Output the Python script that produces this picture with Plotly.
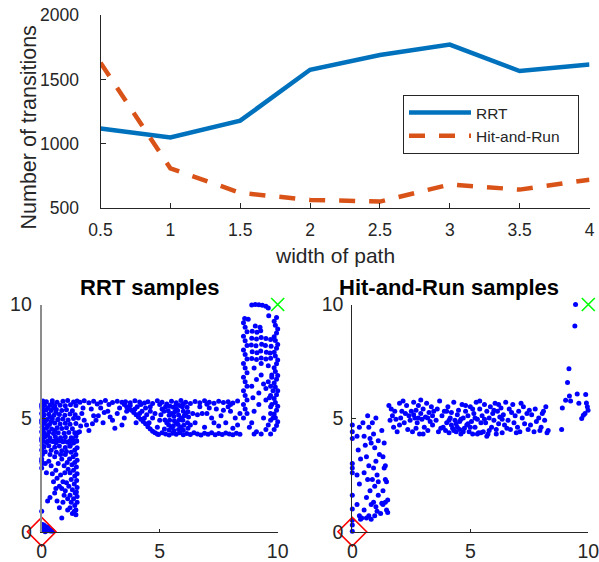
import plotly.graph_objects as go

# ---------------- data ----------------
path_width = [0.5, 1.0, 1.5, 2.0, 2.5, 3.0, 3.5, 4.0]
rrt_transitions = [1120, 1050, 1180, 1575, 1690, 1770, 1565, 1615]
hr_transitions = [1630, 810, 620, 565, 552, 685, 645, 722]

top_xticks = [0.5, 1, 1.5, 2, 2.5, 3, 3.5, 4]
top_yticks = [500, 1000, 1500, 2000]
sample_ticks = [0, 5, 10]

start_point = (0, 0)
goal_point = (10, 10)

rrt_samples = [
    # near the start
    (0.03,0.05),(0.08,0.18),(0.12,0.04),(0.18,0.12),(0.24,0.05),(0.30,0.09),(0.36,0.03),(0.42,0.06),
    (0.10,0.28),(0.04,0.32),(0.20,0.22),(0.15,0.00),(0.28,0.18),(0.47,0.02),
    # sparse low part of the first corridor
    (0.00,0.90),(0.35,1.50),(0.75,1.05),(0.85,0.60),(0.25,1.35),(1.45,0.75),(0.55,1.70),(0.50,2.20),
    (0.20,2.60),(0.65,1.35),
    # right edge of the first corridor
    (1.30,0.80),(1.45,0.95),(1.20,1.05),(1.40,1.15),(1.50,1.30),(1.25,1.30),(1.35,1.45),(1.50,1.55),
    (1.20,1.60),(1.42,1.70),(1.30,1.85),(1.50,1.95),(1.15,2.00),(1.38,2.10),(1.48,2.25),(1.25,2.30),
    (1.40,2.45),(1.50,2.55),(1.20,2.60),(1.35,2.70),(1.47,2.85),(1.28,2.95),(1.40,3.05),(1.50,3.15),
    (1.18,3.20),(1.33,3.30),(1.45,3.40),(1.25,3.50),(1.40,3.60),(1.50,3.70),(1.20,3.80),(1.35,3.90),
    (1.48,4.00),(1.30,4.10),(1.45,4.20),(1.10,1.45),(1.05,2.15),(1.12,2.75),(1.00,3.40),(1.10,0.95),
    (1.00,1.80),(1.08,3.05),(1.52,4.35),(1.38,0.90),(1.47,1.75),
    # middle of the first corridor
    (0.40,2.90),(0.60,2.70),(0.80,2.50),(0.90,2.20),(0.70,3.00),(0.95,1.60),(0.85,1.90),(0.30,3.10),
    (0.55,3.30),(0.75,2.00),(0.95,2.90),(0.65,2.35),(0.45,2.55),(0.85,3.20),(0.60,1.90),(0.90,1.30),
    (0.80,3.40),(0.35,3.40),(0.98,2.60),(0.15,3.00),
    # along the left wall
    (0.00,2.80),(0.02,3.00),(0.00,3.20),(0.03,3.40),(0.00,3.60),(0.02,3.80),(0.00,4.00),(0.03,4.20),
    (0.00,4.40),(0.02,4.60),(0.00,4.80),(0.03,5.00),(0.00,5.20),(0.02,5.40),(0.00,5.60),(0.05,5.75),
    (0.00,3.10),(0.00,4.10),(0.00,4.90),(0.00,5.50),
    # dense upper part of the first corridor
    (0.15,3.52),(0.40,3.58),(0.62,3.50),(0.85,3.56),(1.05,3.53),
    (0.10,3.74),(0.30,3.78),(0.55,3.72),(0.75,3.77),(1.00,3.71),(1.20,3.76),
    (0.20,3.93),(0.45,3.97),(0.60,3.92),(0.90,3.96),(1.10,3.94),
    (0.12,4.16),(0.35,4.12),(0.58,4.18),(0.80,4.13),(1.00,4.17),(1.25,4.14),
    (0.10,4.34),(0.30,4.38),(0.50,4.32),(0.70,4.36),(0.95,4.33),(1.15,4.37),(1.40,4.35),
    (0.20,4.55),(0.42,4.52),(0.65,4.58),(0.85,4.54),(1.05,4.57),(1.30,4.53),
    (0.10,4.76),(0.33,4.72),(0.55,4.78),(0.78,4.74),(1.00,4.77),(1.20,4.73),(1.45,4.76),
    (0.22,4.94),(0.45,4.97),(0.68,4.93),(0.90,4.96),(1.12,4.92),(1.35,4.98),
    (0.10,5.14),(0.30,5.17),(0.52,5.12),(0.75,5.16),(0.98,5.13),(1.20,5.18),(1.42,5.15),
    (0.18,5.36),(0.40,5.33),(0.62,5.38),(0.85,5.34),(1.05,5.37),(1.30,5.32),
    (0.12,5.55),(0.35,5.58),(0.55,5.53),(0.78,5.57),(1.00,5.54),(1.22,5.59),(1.45,5.56),
    (0.20,5.72),(0.45,5.76),(0.65,5.70),(0.90,5.74),(1.10,5.77),(1.35,5.71),(1.50,5.75),
    (0.05,3.99),(0.25,3.98),(0.38,4.00),(0.52,3.98),(0.68,3.99),(0.82,4.00),(0.98,3.98),(1.18,3.99),
    (1.32,4.00),(1.48,3.98),
    (0.05,4.45),(0.25,4.65),(0.15,4.85),(0.35,5.05),(0.05,5.25),(0.28,5.45),(0.45,5.65),(0.08,5.65),
    (0.55,4.45),(0.40,4.85),(0.60,5.25),(0.25,4.25),(0.70,4.95),(0.50,5.45),(0.65,4.05),
    # horizontal corridor, top edge (left half)
    (1.62,5.70),(1.80,5.76),(2.00,5.68),(2.20,5.74),(2.50,5.70),(2.70,5.77),(3.00,5.69),(3.20,5.74),
    (3.55,5.72),(3.75,5.68),(3.95,5.76),(4.15,5.71),(4.35,5.66),(2.35,5.62),(2.85,5.60),
    # horizontal corridor, scattered (left half)
    (1.70,5.20),(1.90,4.70),(2.10,5.40),(2.30,4.90),(1.60,4.40),(2.00,4.45),(2.40,5.10),(2.60,4.80),
    (2.80,5.30),(3.00,4.90),(3.20,5.20),(3.10,4.55),(2.50,5.45),(3.50,5.00),(2.20,5.10),(1.80,4.90),
    (2.90,5.05),(3.40,4.70),(3.60,5.30),(1.55,5.00),(2.65,5.25),(1.65,4.65),(1.75,5.45),(3.30,5.45),
    (2.15,4.75),
    # diagonal streak
    (3.40,5.70),(3.50,5.60),(3.60,5.50),(3.70,5.42),(3.80,5.35),(3.90,5.25),(4.00,5.15),(4.10,5.05),
    (4.20,4.95),(4.30,4.85),(4.40,4.75),(4.50,4.62),(4.60,4.52),(4.70,4.42),(4.80,4.35),(4.90,4.30),
    (3.75,5.55),(3.95,5.40),(4.15,5.20),(4.35,5.00),(4.55,4.80),(4.05,5.50),(4.25,5.30),(4.45,5.15),
    (4.20,5.60),(4.40,5.45),(4.60,5.30),(4.00,4.80),(4.70,5.00),
    # horizontal corridor, top edge (right half)
    (4.50,5.72),(4.70,5.64),(4.90,5.76),(5.10,5.70),(5.30,5.62),(5.50,5.74),(5.70,5.68),(5.90,5.77),
    (6.10,5.70),(6.30,5.64),(6.50,5.73),(6.70,5.68),(6.90,5.76),(7.10,5.70),(7.30,5.65),(7.50,5.74),
    (7.70,5.69),(7.90,5.72),(8.10,5.66),(8.30,5.75),(5.00,5.60),(6.00,5.62),(7.00,5.61),(8.00,5.60),
    # horizontal corridor, bottom edge
    (4.95,4.28),(5.10,4.35),(5.25,4.30),(5.40,4.26),(5.55,4.33),(5.70,4.29),(5.85,4.36),(6.00,4.27),
    (6.15,4.32),(6.30,4.28),(6.45,4.35),(6.60,4.30),(6.75,4.26),(6.90,4.33),(7.05,4.29),(7.20,4.36),
    (7.35,4.27),(7.50,4.32),(7.65,4.28),(7.80,4.34),(7.95,4.30),(8.10,4.27),(8.25,4.33),(8.40,4.29),
    # dense cluster in the middle of the corridor
    (5.20,4.52),(5.22,4.92),(5.18,5.30),(5.25,5.50),
    (5.40,4.48),(5.38,4.70),(5.42,4.90),(5.40,5.12),(5.36,5.32),(5.44,5.52),
    (5.60,4.45),(5.58,4.66),(5.62,4.88),(5.60,5.08),(5.64,5.28),(5.58,5.48),
    (5.80,4.50),(5.78,4.72),(5.82,4.92),(5.80,5.14),(5.76,5.34),(5.84,5.55),
    (6.00,4.46),(6.02,4.68),(5.98,4.90),(6.04,5.10),(6.00,5.30),(5.96,5.50),
    (6.20,4.55),(6.18,4.80),(6.22,5.05),(6.20,5.28),(6.16,5.48),
    (5.50,4.60),(5.70,4.80),(5.90,5.00),(5.50,5.20),(5.70,5.40),(5.90,4.60),(5.30,4.80),(6.10,5.20),
    (5.70,5.60),(4.60,5.50),(4.80,5.20),(5.00,4.90),(5.10,5.40),(4.90,4.60),(5.05,5.15),
    # right part of the corridor
    (6.40,5.20),(6.60,5.15),(6.80,5.20),(7.00,5.20),(6.50,4.80),(6.90,4.60),(7.20,5.00),(7.40,5.40),
    (7.60,5.10),(7.80,4.80),(8.00,5.30),(8.20,5.00),(7.90,5.50),(7.50,4.65),(8.30,4.70),(6.70,5.50),
    (7.10,5.45),(8.10,4.55),(7.70,5.35),(8.40,5.20),(6.30,4.70),(7.30,4.80),
    # last corridor, left edge
    (8.55,5.00),(8.70,5.20),(8.62,5.40),(8.55,5.60),(8.70,5.80),(8.62,6.00),(8.55,6.20),(8.70,6.40),
    (8.62,6.60),(8.55,6.80),(8.70,7.00),(8.62,7.20),(8.55,7.40),(8.70,7.60),(8.62,7.80),(8.55,8.00),
    (8.70,8.20),(8.62,8.40),(8.55,8.60),(8.70,8.80),(8.62,9.00),(8.55,9.20),(8.75,9.35),(8.60,9.38),
    # last corridor, right edge
    (9.85,4.50),(9.95,4.67),(10.00,4.84),(9.90,5.01),(9.85,5.18),(9.95,5.35),(10.00,5.52),(9.90,5.69),
    (9.85,5.86),(9.95,6.03),(10.00,6.20),(9.90,6.37),(9.85,6.54),(9.95,6.71),(10.00,6.88),(9.90,7.05),
    (9.85,7.22),(9.95,7.39),(10.00,7.56),(9.90,7.73),(9.85,7.90),(9.95,8.07),(10.00,8.24),(9.90,8.41),
    (9.85,8.58),(9.95,8.75),(10.00,8.92),(9.90,9.09),(9.85,9.26),(9.95,9.43),
    # last corridor, interior
    (8.90,7.62),(9.10,7.58),(9.30,7.65),(9.50,7.60),(9.70,7.63),
    (8.92,7.92),(9.12,7.88),(9.28,7.95),(9.52,7.90),(9.68,7.86),
    (8.88,8.22),(9.08,8.18),(9.32,8.25),(9.48,8.20),(9.72,8.16),
    (8.90,8.52),(9.10,8.48),(9.30,8.55),(9.50,8.50),(9.70,8.46),
    (8.92,8.82),(9.12,8.78),(9.28,8.85),(9.05,9.05),(9.25,9.00),
    (9.00,7.20),(9.30,6.90),(9.60,6.60),(8.90,6.40),(9.20,6.10),(9.50,5.80),(9.70,5.50),(9.00,5.30),
    (9.40,5.00),(9.60,4.70),(9.10,4.40),(9.30,4.30),(9.70,4.30),(8.90,4.80),(9.20,5.60),(9.50,6.30),
    (9.10,6.70),(9.60,7.30),(9.30,7.40),(8.95,5.90),(9.75,6.90),(9.40,6.50),(9.70,6.00),(9.00,4.30),
    (8.80,4.60),(9.50,4.50),(9.70,5.20),(9.75,5.60),(9.80,6.20),(9.70,6.40),(9.65,5.90),(9.80,5.00),
    (9.75,6.80),(9.70,4.90),
    # near the goal
    (8.90,9.98),(9.05,10.00),(9.20,9.99),(9.35,9.97),(9.50,9.92),(9.60,9.85),(9.62,9.50),
]

hr_samples = [
    # first corridor
    (0.00,4.70),(0.00,4.40),(0.00,4.10),(0.00,3.00),(0.00,2.80),(0.00,2.60),(0.00,1.60),(0.00,1.00),
    (0.00,0.50),(0.00,0.30),(0.00,0.02),
    (0.20,4.20),(0.30,4.60),(0.25,3.60),(0.35,3.20),(0.20,2.50),(0.30,2.10),(0.20,1.20),(0.30,0.70),
    (0.35,0.55),(0.40,0.60),
    (0.45,4.80),(0.50,4.20),(0.55,3.80),(0.60,3.30),(0.70,2.90),(0.50,2.60),(0.65,2.30),(0.75,1.80),
    (0.60,1.50),(0.80,1.20),(0.50,0.95),(0.60,0.60),(0.70,0.70),(0.80,0.55),(0.65,5.10),(0.70,4.60),
    (0.75,4.10),
    (0.85,4.80),(0.90,4.30),(0.95,3.70),(1.00,3.10),(0.90,2.80),(1.05,2.50),(0.95,2.00),(1.10,1.60),
    (0.90,1.30),(1.00,1.10),(1.05,0.90),(0.95,0.70),(1.10,4.00),(1.15,3.40),(1.00,5.00),(0.80,3.90),
    (0.85,2.30),(1.10,2.20),
    (1.25,4.45),(1.30,3.30),(1.35,2.80),(1.40,2.30),(1.45,2.20),(1.30,1.80),(1.40,1.30),(1.45,0.95),
    (1.50,0.85),(1.30,1.20),(1.35,3.90),(1.40,2.90),(1.50,1.40),(1.25,1.25),(1.20,0.80),
    # horizontal corridor
    (1.55,5.55),(1.60,4.90),(1.70,5.10),(1.75,4.60),(1.80,5.30),(1.90,4.40),(2.00,5.65),(2.05,5.00),
    (2.10,5.30),(2.20,4.80),(2.25,5.20),(2.30,5.55),(2.35,4.50),(2.40,5.10),(2.45,4.90),(1.65,5.40),
    (1.85,4.95),(2.15,5.75),(2.00,4.70),(2.50,5.30),
    (2.55,4.40),(2.60,5.70),(2.65,5.00),(2.70,5.35),(2.75,4.80),(2.80,5.55),(2.85,4.30),(2.90,5.20),
    (2.95,4.95),(3.00,5.40),(3.05,4.60),(3.10,5.05),(3.15,5.65),(3.20,4.45),(3.25,5.25),(3.30,4.85),
    (3.35,5.50),(3.40,4.70),(3.45,5.30),(2.70,4.55),(2.90,5.80),(3.00,4.30),(3.20,5.00),(3.40,5.10),
    (2.60,5.15),(2.80,5.00),
    (3.55,4.90),(3.60,5.40),(3.65,4.40),(3.70,5.75),(3.80,5.10),(3.85,4.60),(3.90,5.30),(4.00,4.80),
    (4.05,5.50),(4.10,4.35),(4.15,5.00),(4.20,5.25),(4.25,4.55),(4.30,5.70),(4.35,4.90),(4.40,4.40),
    (4.45,5.15),(3.75,4.55),(4.00,5.30),(4.20,4.70),(4.30,4.45),(4.40,4.75),(4.10,4.90),(3.95,4.45),
    (4.45,4.60),
    (4.50,5.35),(4.55,4.85),(4.60,4.30),(4.65,5.60),(4.70,5.00),(4.75,4.55),(4.80,5.30),(4.85,4.70),
    (4.90,5.10),(4.95,4.40),(5.00,5.50),(5.05,4.85),(5.10,4.30),(5.15,5.20),(5.20,4.60),(5.25,5.70),
    (5.30,4.95),(5.35,4.35),(5.40,5.40),(5.45,4.80),(4.60,4.95),(4.70,4.40),(4.80,5.55),(5.00,4.60),
    (5.20,5.00),(5.30,4.30),(5.40,5.75),(4.90,4.75),(5.10,5.40),(4.55,4.50),(5.45,4.35),
    (5.50,5.10),(5.55,4.40),(5.60,5.60),(5.65,4.80),(5.70,5.30),(5.75,4.30),(5.80,5.00),(5.85,5.50),
    (5.90,4.60),(5.95,5.20),(6.00,4.90),(6.05,5.65),(6.10,4.50),(6.15,5.30),(6.20,4.75),(6.25,5.05),
    (6.30,5.45),(6.35,4.35),(6.40,5.15),(6.45,4.70),(5.60,4.95),(5.80,4.45),(6.00,5.35),(6.20,5.60),
    (6.35,4.95),(5.70,4.20),(6.10,4.30),
    (6.50,5.70),(6.60,4.90),(6.65,5.40),(6.70,4.50),(6.80,5.60),(6.85,4.80),(6.90,5.10),(7.00,4.60),
    (7.05,5.30),(7.10,4.40),(7.20,5.00),(7.25,5.50),(7.30,4.75),(7.40,5.20),(7.45,4.50),(6.75,5.25),
    (6.95,4.35),(7.15,5.65),(6.55,4.55),
    (7.50,5.35),(7.55,4.70),(7.60,5.15),(7.70,4.40),(7.75,5.40),(7.80,4.85),(7.90,5.00),(8.00,4.60),
    (8.05,5.20),(8.15,4.90),(8.25,4.35),(8.30,4.45),(8.20,5.50),(7.95,4.45),(8.10,5.30),
    # last corridor
    (8.87,4.50),(8.90,5.45),(9.04,5.79),(9.20,5.97),(9.25,5.75),(9.12,6.57),(9.18,7.17),(9.43,9.05),
    (9.46,10.00),(9.53,6.06),(9.60,5.65),(9.89,6.04),(9.92,5.67),(9.96,5.50),(9.86,5.20),(9.72,4.98),
    (9.79,5.13),(9.99,5.35),
]

# ---------------- figure ----------------
W, H = 599, 562
FONT = "Liberation Sans, Arial, sans-serif"
AXC = "#262626"
PAD = "\u00a0\u00a0\u00a0"  # extra room at the right of the legend box

fig = go.Figure()

fig.add_trace(go.Scatter(
    x=path_width, y=rrt_transitions, mode="lines", name="RRT",
    line=dict(color="#0072BD", width=4.5), xaxis="x", yaxis="y"))
fig.add_trace(go.Scatter(
    x=path_width, y=hr_transitions, mode="lines", name="Hit-and-Run" + PAD,
    line=dict(color="#D95319", width=4.5, dash="16px,14px"), xaxis="x", yaxis="y"))

for samples, ax, ay in [(rrt_samples, "x2", "y2"), (hr_samples, "x3", "y3")]:
    fig.add_trace(go.Scatter(
        x=[p[0] for p in samples], y=[p[1] for p in samples], mode="markers",
        marker=dict(color="#0000FF", size=5, line=dict(width=0)),
        showlegend=False, xaxis=ax, yaxis=ay, cliponaxis=False))
    fig.add_trace(go.Scatter(
        x=[start_point[0]], y=[start_point[1]], mode="markers",
        marker=dict(symbol="diamond-open", size=22, color="#FF0000", line=dict(width=1.6, color="#FF0000")),
        showlegend=False, xaxis=ax, yaxis=ay, cliponaxis=False))
    fig.add_trace(go.Scatter(
        x=[goal_point[0]], y=[goal_point[1]], mode="markers",
        marker=dict(symbol="x-thin-open", size=13, color="#00FF00", line=dict(width=1.6, color="#00FF00")),
        showlegend=False, xaxis=ax, yaxis=ay, cliponaxis=False))


def px_x(a, b):
    return [a / W, b / W]


def px_y(top, bottom):
    return [1 - bottom / H, 1 - top / H]


common = dict(showgrid=False, zeroline=False, showline=True, linecolor=AXC, linewidth=1,
              ticks="inside", tickcolor=AXC, ticklen=5, tickwidth=1, automargin=False,
              ticklabeloverflow="allow",
              tickfont=dict(family=FONT, size=17.5, color=AXC))

fig.update_layout(
    width=W, height=H, margin=dict(l=0, r=0, t=0, b=0, autoexpand=False),
    paper_bgcolor="white", plot_bgcolor="white",
    font=dict(family=FONT, color=AXC),
    showlegend=True,
    legend=dict(x=403 / W, y=1 - 95 / H, xanchor="left", yanchor="top",
                bordercolor=AXC, borderwidth=1, bgcolor="white",
                font=dict(family=FONT, size=15.5, color=AXC), itemwidth=62,
                tracegroupgap=0),
    xaxis=dict(domain=px_x(100.5, 589.5), range=[0.5, 4], tickvals=top_xticks,
               ticktext=[f"{v:g}" for v in top_xticks], anchor="y", ticklabelstandoff=6, **common),
    yaxis=dict(domain=px_y(15, 208.3), range=[500, 2000], tickvals=top_yticks, anchor="x",
               ticklabelstandoff=17, **common),
    xaxis2=dict(domain=px_x(41.7, 277.7), range=[0, 10], tickvals=sample_ticks, anchor="y2", **common),
    yaxis2=dict(domain=px_y(304.5, 531.7), range=[0, 10], tickvals=sample_ticks, anchor="x2", **common),
    xaxis3=dict(domain=px_x(352.3, 588.3), range=[0, 10], tickvals=sample_ticks, anchor="y3", **common),
    yaxis3=dict(domain=px_y(304.5, 531.7), range=[0, 10], tickvals=sample_ticks, anchor="x3", **common),
)

bottom_font = dict(family=FONT, size=19.5, color=AXC)
fig.update_xaxes(tickfont=bottom_font, ticklen=3, ticklabelstandoff=2, selector=dict(anchor="y2"))
fig.update_xaxes(tickfont=bottom_font, ticklen=3, ticklabelstandoff=2, selector=dict(anchor="y3"))
fig.update_yaxes(tickfont=bottom_font, ticklen=4, ticklabelstandoff=4, selector=dict(anchor="x2"))
fig.update_yaxes(tickfont=bottom_font, ticklen=4, ticklabelstandoff=4, selector=dict(anchor="x3"))
fig.update_yaxes(linecolor="#8C8C8C", linewidth=2, selector=dict(anchor="x2"))

# axis titles of the top panel
fig.add_annotation(text="width of path", x=334.5 / W, y=1 - 255.5 / H, xref="paper", yref="paper",
                   xanchor="center", yanchor="middle", showarrow=False,
                   font=dict(family=FONT, size=21, color=AXC))
fig.add_annotation(text="Number of transitions", x=28 / W, y=1 - 127.5 / H, xref="paper", yref="paper",
                   xanchor="center", yanchor="middle", showarrow=False, textangle=-90,
                   font=dict(family=FONT, size=21.5, color=AXC))

# panel titles
fig.add_annotation(text="<b>RRT samples</b>", x=149 / W, y=1 - 287 / H, xref="paper", yref="paper",
                   xanchor="center", yanchor="middle",
                   showarrow=False, font=dict(family=FONT, size=22, color="black"))
fig.add_annotation(text="<b>Hit-and-Run samples</b>", x=449 / W, y=1 - 287 / H, xref="paper", yref="paper",
                   xanchor="center", yanchor="middle",
                   showarrow=False, font=dict(family=FONT, size=22, color="black"))

fig.write_html("out.html", config={"displayModeBar": False},
               post_script="document.body.style.margin='0';document.body.style.overflow='hidden';")
